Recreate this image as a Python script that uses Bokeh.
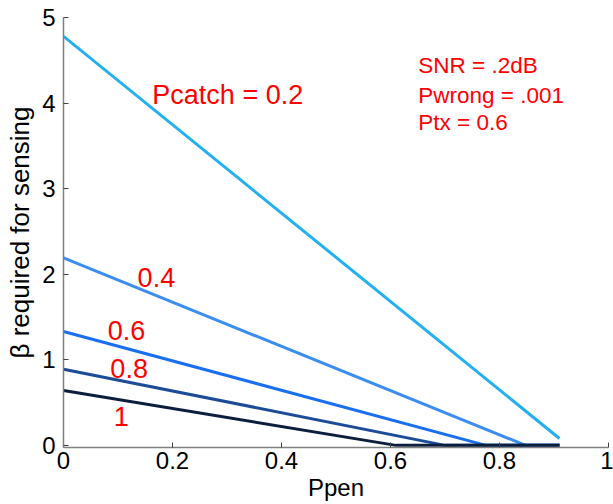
from bokeh.plotting import figure
from bokeh.models import Range1d, FixedTicker
from bokeh.core.properties import value
from bokeh.embed import file_html
from bokeh.resources import INLINE

# ---- data ----
pcatch = ["0.2", "0.4", "0.6", "0.8", "1"]
ppen_02 = [0.0, 0.91]
beta_02 = [4.78, 0.08]
ppen_04 = [0.0, 0.848, 0.91]
beta_04 = [2.19, 0.0, 0.0]
ppen_06 = [0.0, 0.775, 0.91]
beta_06 = [1.33, 0.0, 0.0]
ppen_08 = [0.0, 0.70, 0.91]
beta_08 = [0.89, 0.0, 0.0]
ppen_10 = [0.0, 0.61, 0.91]
beta_10 = [0.64, 0.0, 0.0]
series_x = [ppen_02, ppen_04, ppen_06, ppen_08, ppen_10]
series_y = [beta_02, beta_04, beta_06, beta_08, beta_10]
colors = ["#22b0f0", "#3b8ef0", "#1a6ff0", "#1c4b98", "#0b1e3c"]

x_ticks = [0, 0.2, 0.4, 0.6, 0.8, 1]
y_ticks = [0, 1, 2, 3, 4, 5]

# curve labels: text, x, y (data units)
curve_label_text = ["Pcatch = 0.2", "0.4", "0.6", "0.8", "1"]
curve_label_x = [0.163, 0.136, 0.081, 0.086, 0.092]
curve_label_y = [4.09, 1.96, 1.34, 0.90, 0.34]

param_text = ["SNR = .2dB", "Pwrong = .001", "Ptx = 0.6"]
param_x = [0.651, 0.651, 0.651]
param_y = [4.44, 4.09, 3.77]

FONT = "Liberation Sans"

p = figure(width=613, height=504, output_backend="svg", toolbar_location=None,
           x_range=Range1d(0, 1), y_range=Range1d(-0.025, 5),
           min_border_left=63, min_border_right=5, min_border_top=17, min_border_bottom=57)
p.outline_line_color = None
p.xgrid.visible = False
p.ygrid.visible = False
p.background_fill_color = "white"
p.border_fill_color = "white"

for xs, ys, c in zip(series_x, series_y, colors):
    p.line(xs, ys, line_color=c, line_width=3)

p.text(x=curve_label_x, y=curve_label_y, text=curve_label_text,
       text_color="#ff0000", text_font=value(FONT), text_font_size="27px",
       text_align="left", text_baseline="middle")
p.text(x=param_x, y=param_y, text=param_text,
       text_color="#ff0000", text_font=value(FONT), text_font_size="22.5px",
       text_align="left", text_baseline="middle")

for ax in (p.xaxis[0], p.yaxis[0]):
    ax.axis_line_color = "#808080"
    ax.axis_line_width = 1.5
    ax.major_tick_line_color = "#404040"
    ax.major_tick_in = 5
    ax.major_tick_out = 0
    ax.minor_tick_line_color = None
    ax.major_label_text_font = FONT
    ax.major_label_text_font_size = "24px"
    ax.major_label_text_color = "black"
    ax.axis_label_text_font = FONT
    ax.axis_label_text_font_style = "normal"
    ax.axis_label_text_color = "black"

p.xaxis.axis_label_text_font_size = "24px"
p.yaxis.axis_label_text_font_size = "26px"
p.xaxis.ticker = FixedTicker(ticks=x_ticks)
p.yaxis.ticker = FixedTicker(ticks=y_ticks)
p.xaxis.major_label_overrides = {0: "0", 0.2: "0.2", 0.4: "0.4", 0.6: "0.6", 0.8: "0.8", 1: "1"}
p.xaxis.axis_label = "Ppen"
p.yaxis.axis_label = "β required for sensing"
p.xaxis.major_label_standoff = 4
p.xaxis.axis_label_standoff = 2
p.yaxis.major_label_standoff = 8
p.yaxis.axis_label_standoff = 4

open("out.html", "w").write(file_html(p, INLINE))
